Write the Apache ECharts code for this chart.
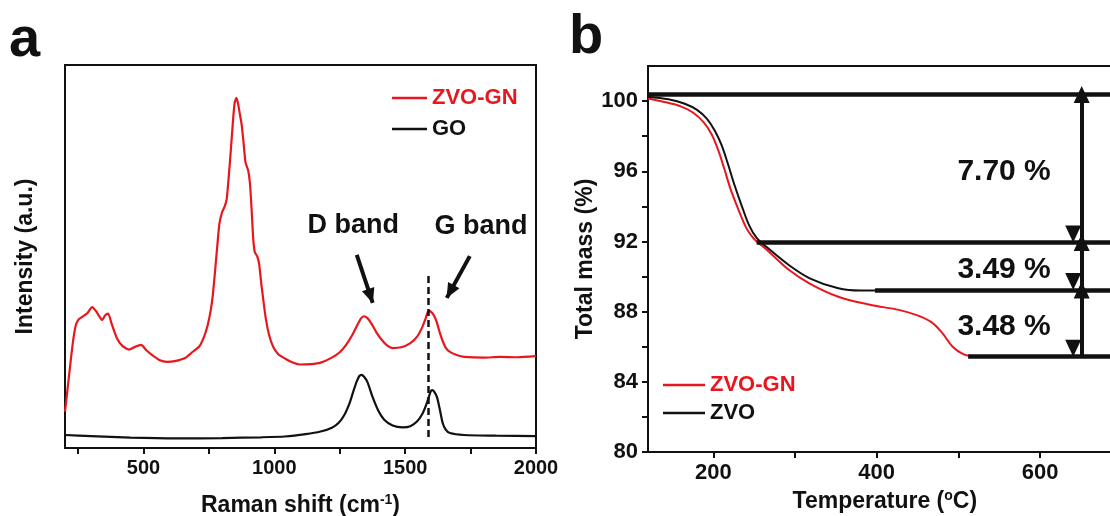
<!DOCTYPE html>
<html>
<head>
<meta charset="utf-8">
<script src="https://cdn.jsdelivr.net/npm/echarts@6/dist/echarts.min.js"></script>
<style>
  html, body { margin: 0; background: #fff; }
  #chart { width: 1110px; height: 516px; }
</style>
</head>
<body>
<div id="chart"></div>
<script>
// ---- panel a: Raman spectra, [shift (cm-1), intensity (a.u.)]
var ramanZvoGn = [
  [200, 9.5], [205, 12.5], [214, 18], [223, 23.5], [232, 28.5], [241, 32], [252, 33.6], [265, 34.2],
  [285, 35.2], [304, 36.8], [318, 35.8], [330, 34.5], [342, 33.4], [353, 34.6], [365, 35.1], [378, 32.5],
  [399, 28.6], [420, 26.6], [445, 25.7], [468, 26.4], [491, 26.9], [510, 25.6], [536, 24.1], [560, 23],
  [590, 22.5], [620, 22.7], [659, 23.5], [686, 25], [713, 26.5], [730, 28.8], [745, 32], [757, 36],
  [765, 40], [772, 45], [781, 52], [790, 58.5], [800, 61.5], [810, 63], [818, 65], [826, 71], [834, 78],
  [841, 84.5], [848, 90], [855, 91.4], [861, 90], [868, 87.3], [875, 84.5], [882, 80], [890, 74.5],
  [900, 72.5], [907, 69], [913, 62.5], [919, 55], [925, 51.2], [935, 50], [942, 48], [950, 43],
  [958, 38.6], [968, 33.5], [980, 29.5], [995, 26.5], [1015, 24.5], [1042, 23.3], [1070, 22.3],
  [1096, 21.8], [1140, 21.9], [1177, 22.3], [1220, 23.6], [1250, 25], [1275, 27], [1298, 29.5],
  [1315, 31.8], [1330, 33.7], [1342, 34.4], [1356, 33.9], [1370, 32.6], [1390, 30.2], [1411, 28.2],
  [1432, 26.7], [1452, 26.1], [1485, 26.3], [1520, 27.4], [1545, 29], [1565, 31.5], [1578, 33.8],
  [1589, 35.8], [1600, 35.5], [1610, 34.6], [1620, 33], [1632, 30.2], [1643, 28], [1656, 26.1],
  [1671, 25.1], [1700, 24.2], [1725, 23.8], [1800, 23.6], [1862, 23.8], [1930, 23.7], [2000, 24]
];
var ramanGo = [
  [200, 3.4], [300, 3.1], [450, 2.7], [630, 2.5], [800, 2.6], [950, 2.8], [1040, 3.0], [1120, 3.6],
  [1177, 4.3], [1220, 5.3], [1246, 6.6], [1268, 8.7], [1288, 11.8], [1302, 14.8], [1315, 17.4],
  [1325, 18.8], [1333, 19.1], [1343, 18.6], [1356, 17.2], [1375, 13.4], [1397, 9.8], [1420, 7.4],
  [1452, 5.9], [1490, 5.4], [1520, 5.7], [1545, 6.9], [1565, 8.8], [1580, 11.2], [1590, 13.2],
  [1597, 14.7], [1603, 15.1], [1612, 14.6], [1622, 13.2], [1632, 10.2], [1643, 6.6], [1655, 4.8],
  [1671, 3.9], [1725, 3.4], [1850, 3.2], [2000, 3.1]
];
var ramanTicks = [250, 500, 750, 1000, 1250, 1500, 1750, 2000];
var ramanLabels = [500, 1000, 1500, 2000];
var gBandShift = 1589;                       // dashed marker
var bandNames = ['D band', 'G band'];
var bandTextAt = [[1302, 58], [1790, 57.7]];
var bandArrows = [[[1315, 50.4], [1376, 37.9]], [[1747, 50.1], [1659, 39.2]]];

// ---- panel b: TGA, [temperature (C), total mass (%)]
var tgaZvoGn = [
  [120, 100.15], [140, 99.95], [160, 99.7], [175, 99.35], [188, 98.8], [198, 98.1], [206, 97.2],
  [213, 96.2], [221, 95.0], [230, 93.9], [240, 92.8], [247, 92.3], [253, 92.0], [266, 91.5],
  [292, 90.4], [318, 89.6], [353, 88.85], [393, 88.38], [427, 88.1], [449, 87.8], [467, 87.4],
  [480, 86.8], [493, 86.0], [506, 85.58], [519, 85.45]
];
var tgaZvo = [
  [120, 100.25], [145, 100.1], [165, 99.85], [180, 99.5], [192, 99.0], [202, 98.3], [210, 97.5],
  [218, 96.4], [226, 95.2], [235, 94.0], [244, 92.9], [253, 92.2], [266, 91.65], [292, 90.67],
  [318, 89.9], [353, 89.33], [380, 89.2], [400, 89.2]
];
var tempTicks = [200, 300, 400, 500, 600, 700];
var tempLabels = [200, 400, 600];
var massTicks = [80, 82, 84, 86, 88, 90, 92, 94, 96, 98, 100];
var massLabels = [80, 84, 88, 92, 96, 100];
var stepLevels = [100.38, 91.94, 89.24, 85.43];
var stepFrom = [120, 253, 398, 512];
var stepNames = ['7.70 %', '3.49 %', '3.48 %'];
var stepArrowTemp = 651;
var stepTextTemp = 556;

var RED = '#e8161d';
var INK = '#111';
var FONT = '"Liberation Sans", Arial, sans-serif';

function txt(size, color) {
  return { fontFamily: FONT, fontSize: size, fontWeight: 'bold', color: color || INK };
}
function plain(v) { return String(v); }
var supRich = { sup: { fontFamily: FONT, fontSize: 14, fontWeight: 'bold', color: INK, padding: [0, 0, 12, 0] } };

var chart = echarts.init(document.getElementById('chart'));

// annotation lines
var ramanMarks = [
  [{ coord: [gBandShift, 2.9], lineStyle: { type: [7, 4], width: 2.5, color: INK } }, { coord: [gBandShift, 45.7] }]
];
bandArrows.forEach(function (a) {
  ramanMarks.push([
    { coord: a[0], symbol: 'none', lineStyle: { type: 'solid', width: 4, color: INK } },
    { coord: a[1], symbol: 'triangle', symbolSize: [13, 15], symbolOffset: [0, 7] }
  ]);
});

var stepLines = [];
var stepArrows = [];
var stepTexts = [];
for (var i = 0; i < stepLevels.length; i++) {
  stepLines.push([{ coord: [stepFrom[i], stepLevels[i]] }, { coord: [700, stepLevels[i]] }]);
  if (i < stepNames.length) {
    stepArrows.push([{ coord: [stepArrowTemp, stepLevels[i]] }, { coord: [stepArrowTemp, stepLevels[i + 1]] }]);
    stepTexts.push({ name: stepNames[i], coord: [stepTextTemp, (stepLevels[i] + stepLevels[i + 1]) / 2 - 0.2] });
  }
}

var option = {
  animation: false,
  textStyle: { fontFamily: FONT },
  grid: [
    { left: 65, top: 65, width: 471, height: 383, show: true, borderColor: INK, borderWidth: 2, outerBoundsMode: 'none' },
    { left: 648, top: 66, width: 473.7, height: 386, show: true, borderColor: INK, borderWidth: 2, outerBoundsMode: 'none' }
  ],
  xAxis: [
    {
      gridIndex: 0, type: 'value', min: 200, max: 2000,
      axisLine: { show: true, onZero: false, lineStyle: { color: INK, width: 2 } },
      axisTick: { show: true, customValues: ramanTicks, length: 6, lineStyle: { color: INK, width: 2 } },
      axisLabel: Object.assign({ customValues: ramanLabels, margin: 10, formatter: plain }, txt(20)),
      splitLine: { show: false },
      name: 'Raman shift (cm{sup|-1})', nameLocation: 'middle', nameGap: 45,
      nameTextStyle: Object.assign({ rich: supRich }, txt(23))
    },
    {
      gridIndex: 1, type: 'value', min: 120, max: 700,
      axisLine: { show: true, onZero: false, lineStyle: { color: INK, width: 2 } },
      axisTick: { show: true, customValues: tempTicks, length: 6, lineStyle: { color: INK, width: 2 } },
      axisLabel: Object.assign({ customValues: tempLabels, margin: 10, formatter: plain }, txt(22)),
      splitLine: { show: false },
      name: 'Temperature ({sup|o}C)', nameLocation: 'middle', nameGap: 37,
      nameTextStyle: Object.assign({ rich: supRich }, txt(23))
    }
  ],
  yAxis: [
    {
      gridIndex: 0, type: 'value', min: 0, max: 100,
      axisLine: { show: true, onZero: false, lineStyle: { color: INK, width: 2 } },
      axisTick: { show: false }, axisLabel: { show: false }, splitLine: { show: false },
      name: 'Intensity (a.u.)', nameLocation: 'middle', nameGap: 28, nameTextStyle: txt(23)
    },
    {
      gridIndex: 1, type: 'value', min: 80, max: 102,
      axisLine: { show: true, onZero: false, lineStyle: { color: INK, width: 2 } },
      axisTick: { show: true, customValues: massTicks, length: 6, lineStyle: { color: INK, width: 2 } },
      axisLabel: Object.assign({ customValues: massLabels, margin: 10, formatter: plain }, txt(22)),
      splitLine: { show: false },
      name: 'Total mass (%)', nameLocation: 'middle', nameGap: 49, nameTextStyle: txt(23)
    }
  ],
  legend: [
    {
      left: 387, top: 81, orient: 'vertical', icon: 'rect', itemWidth: 35, itemHeight: 2.5, itemGap: 7,
      selectedMode: false, textStyle: Object.assign({ lineHeight: 24 }, txt(22)),
      data: [{ name: 'ZVO-GN', textStyle: { color: RED } }, { name: 'GO' }]
    },
    {
      left: 658, top: 368, orient: 'vertical', icon: 'rect', itemWidth: 42, itemHeight: 2.5, itemGap: 4,
      selectedMode: false, textStyle: Object.assign({ lineHeight: 24 }, txt(22)),
      data: [{ name: 'ZVO-GN', textStyle: { color: RED } }, { name: 'ZVO' }]
    }
  ],
  graphic: [
    { type: 'text', x: 9, y: 41, style: { text: 'a', font: 'bold 56px "Liberation Sans", Arial', fill: INK, verticalAlign: 'middle' } },
    { type: 'text', x: 569, y: 38, style: { text: 'b', font: 'bold 56px "Liberation Sans", Arial', fill: INK, verticalAlign: 'middle' } }
  ],
  series: [
    {
      name: 'ZVO-GN', type: 'line', xAxisIndex: 0, yAxisIndex: 0, data: ramanZvoGn,
      showSymbol: false, symbol: 'none', smooth: 0.2,
      lineStyle: { color: RED, width: 2.2 }, itemStyle: { color: RED },
      markPoint: {
        silent: true, symbol: 'circle', symbolSize: 1, itemStyle: { color: 'rgba(0,0,0,0)' },
        label: Object.assign({ show: true, position: 'inside', formatter: '{b}' }, txt(27)),
        data: bandNames.map(function (n, k) { return { name: n, coord: bandTextAt[k] }; })
      }
    },
    {
      name: 'GO', type: 'line', xAxisIndex: 0, yAxisIndex: 0, data: ramanGo,
      showSymbol: false, symbol: 'none', smooth: 0.2,
      lineStyle: { color: INK, width: 2.2 }, itemStyle: { color: INK },
      markLine: { silent: true, symbol: 'none', label: { show: false }, data: ramanMarks }
    },
    {
      name: 'ZVO-GN', type: 'line', xAxisIndex: 1, yAxisIndex: 1, data: tgaZvoGn,
      showSymbol: false, symbol: 'none', smooth: 0.35,
      lineStyle: { color: RED, width: 2 }, itemStyle: { color: RED },
      markLine: {
        silent: true, symbol: ['triangle', 'triangle'], symbolSize: [16, 17], symbolOffset: [0, 8.5],
        label: { show: false }, lineStyle: { type: 'solid', width: 4, color: INK },
        data: stepArrows
      }
    },
    {
      name: 'ZVO', type: 'line', xAxisIndex: 1, yAxisIndex: 1, data: tgaZvo,
      showSymbol: false, symbol: 'none', smooth: 0.35,
      lineStyle: { color: INK, width: 2 }, itemStyle: { color: INK },
      markLine: {
        silent: true, symbol: 'none', label: { show: false },
        lineStyle: { type: 'solid', width: 4.5, color: INK }, data: stepLines
      },
      markPoint: {
        silent: true, symbol: 'circle', symbolSize: 1, itemStyle: { color: 'rgba(0,0,0,0)' },
        label: Object.assign({ show: true, position: 'inside', formatter: '{b}' }, txt(30)),
        data: stepTexts
      }
    }
  ]
};

chart.setOption(option);
</script>
</body>
</html>
